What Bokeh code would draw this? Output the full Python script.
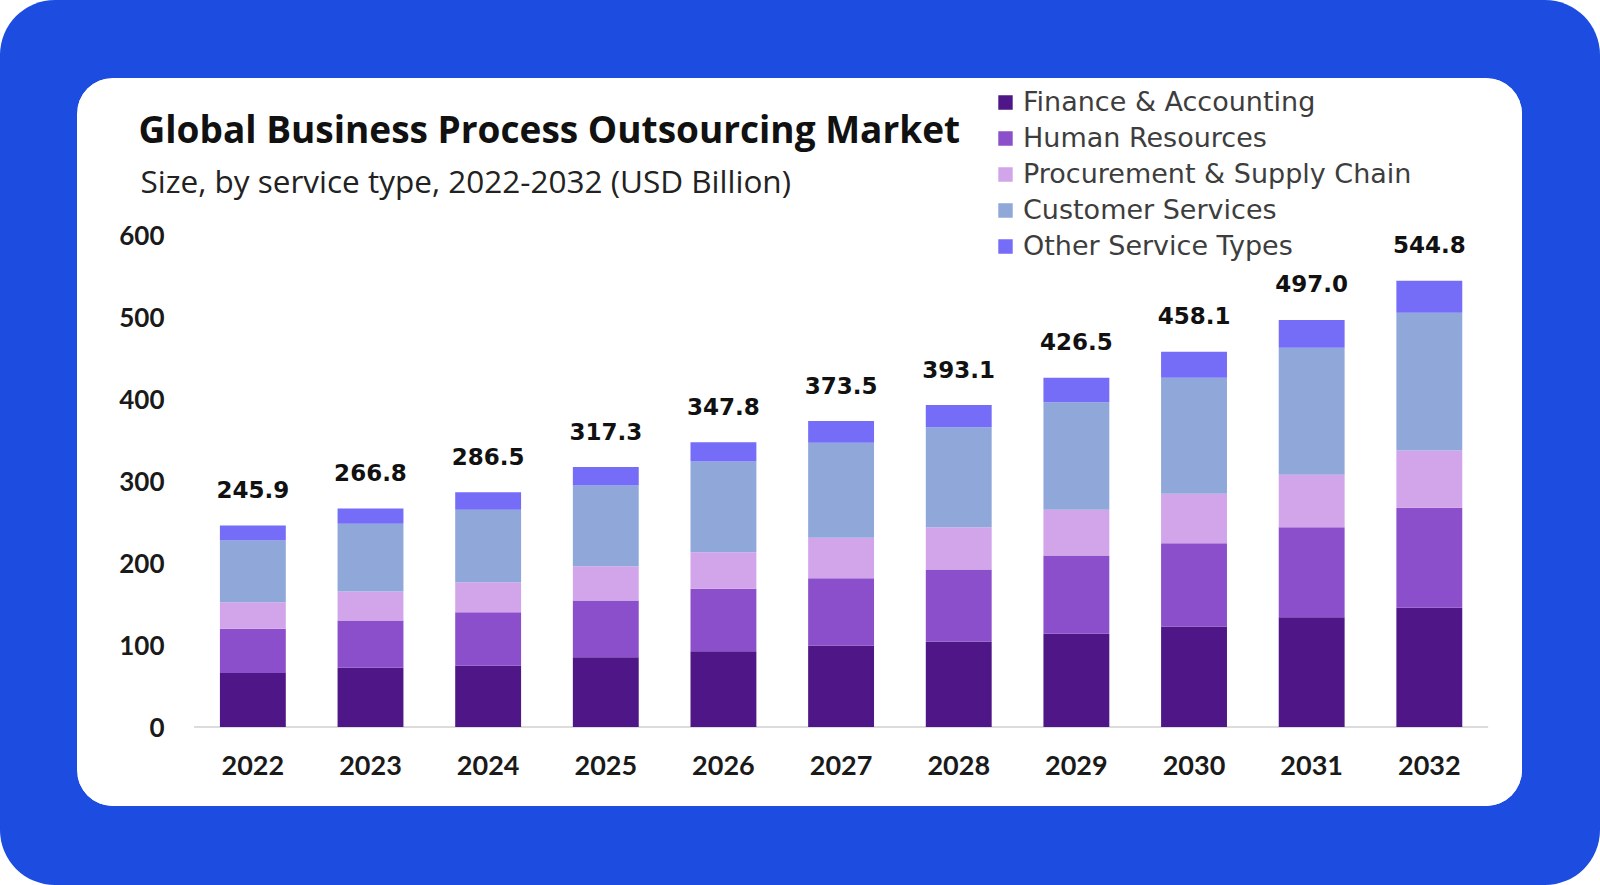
from bokeh.plotting import figure
from bokeh.layouts import column
from bokeh.models import Label, FixedTicker, ColumnDataSource, Range1d
from bokeh.core.properties import value
from bokeh.embed import file_html
from bokeh.resources import INLINE

years = [2022, 2023, 2024, 2025, 2026, 2027, 2028, 2029, 2030, 2031, 2032]
finance = [66.0, 72.3, 75.1, 85.3, 92.6, 99.5, 104.4, 113.8, 122.7, 134.1, 145.5]
human_resources = [54.0, 57.7, 65.1, 69.2, 76.1, 82.2, 88.0, 95.6, 101.7, 109.9, 122.1]
procurement = [32.4, 35.4, 36.6, 41.8, 44.7, 49.3, 51.6, 55.8, 60.3, 63.9, 70.0]
customer = [75.3, 82.7, 88.4, 98.6, 110.8, 116.0, 122.1, 131.4, 141.7, 155.1, 168.1]
other = [18.2, 18.7, 21.3, 22.4, 23.6, 26.5, 27.0, 29.9, 31.7, 34.0, 39.1]
totals = [245.9, 266.8, 286.5, 317.3, 347.8, 373.5, 393.1, 426.5, 458.1, 497.0, 544.8]
series_names = ["Finance & Accounting", "Human Resources", "Procurement & Supply Chain",
                "Customer Services", "Other Service Types"]
colors = ["#4e1686", "#8b4fcb", "#d2a5ea", "#8fa8d9", "#756cf7"]
y_ticks = [0, 100, 200, 300, 400, 500, 600]

p = figure(width=1445, height=728, title=None,
           x_range=Range1d(2020.79, 2032.52), y_range=Range1d(-3, 791.7),
           output_backend="svg", toolbar_location=None,
           min_border_left=33, min_border_right=32, min_border_top=0, min_border_bottom=77)
p.border_fill_color = "white"
p.background_fill_color = "white"
p.outline_line_color = None
p.xgrid.grid_line_color = None
p.ygrid.grid_line_color = None
p.margin = (78, 78, 79, 77)
p.styles = {"border-radius": "36px", "overflow": "hidden", "background-color": "white"}

src = ColumnDataSource(dict(year=years, f=finance, hr=human_resources, pr=procurement,
                            cs=customer, ot=other, total=totals,
                            lbl=[f"{t:.1f}" for t in totals]))

# baseline under the bars
p.segment(x0=[years[0] - 0.5], y0=[0], x1=[years[-1] + 0.5], y1=[0],
          line_color="#dcdcdc", line_width=2)

p.vbar_stack(["f", "hr", "pr", "cs", "ot"], x="year", width=0.56, source=src,
             color=colors, line_color=None, legend_label=series_names)

p.text(x="year", y="total", text="lbl", source=src, text_align="center",
       text_baseline="alphabetic", y_offset=-36, text_font=value("DejaVu Sans"),
       text_font_style="bold", text_font_size="23px", text_color="#111111")

# axes
p.yaxis.ticker = FixedTicker(ticks=y_ticks)
p.yaxis.axis_line_color = None
p.yaxis.major_tick_line_color = None
p.yaxis.minor_tick_line_color = None
p.yaxis.major_label_standoff = -60
p.yaxis.major_label_text_font = "Lato"
p.yaxis.major_label_text_font_style = "bold"
p.yaxis.major_label_text_font_size = "26px"
p.yaxis.major_label_text_color = "#1a1a1a"

p.xaxis.ticker = FixedTicker(ticks=years)
p.xaxis.axis_line_color = None
p.xaxis.major_tick_line_color = None
p.xaxis.minor_tick_line_color = None
p.xaxis.major_label_standoff = 20
p.xaxis.major_label_text_font = "Lato"
p.xaxis.major_label_text_font_style = "bold"
p.xaxis.major_label_text_font_size = "27px"
p.xaxis.major_label_text_color = "#1a1a1a"

# titles
p.add_layout(Label(x=28, y=601, x_units="screen", y_units="screen",
                   text="Global Business Process Outsourcing Market",
                   text_font="Open Sans", text_font_style="bold", text_font_size="37px",
                   text_color="#111111", text_baseline="alphabetic"))
p.add_layout(Label(x=30, y=549, x_units="screen", y_units="screen",
                   text="Size, by service type, 2022-2032 (USD Billion)",
                   text_font="Open Sans", text_font_size="31.5px",
                   text_color="#222222", text_baseline="alphabetic"))

# legend
lg = p.legend[0]
lg.location = (886, 468)
lg.orientation = "vertical"
lg.background_fill_alpha = 0
lg.border_line_color = None
lg.padding = 0
lg.margin = 0
lg.spacing = 5
lg.glyph_width = 18
lg.glyph_height = 18
lg.label_height = 30
lg.label_standoff = 9
lg.label_text_font = "DejaVu Sans"
lg.label_text_font_size = "27px"
lg.label_text_color = "#3d3d3d"

page = column(p, styles={"background-color": "#1c4ce0", "border-radius": "55px"})
open("out.html", "w").write(file_html(page, INLINE))
